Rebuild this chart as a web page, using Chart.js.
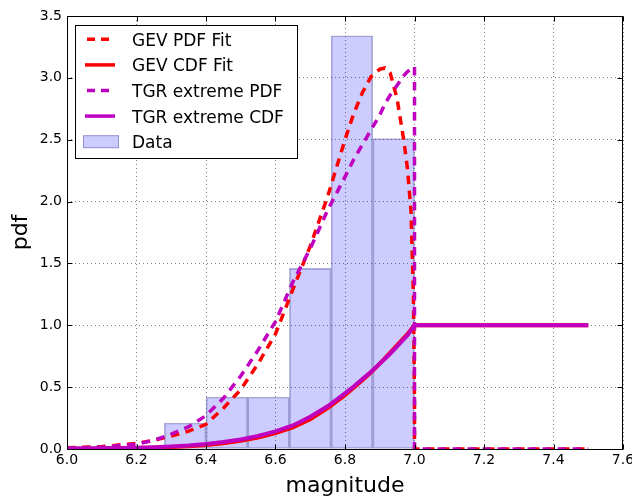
<!DOCTYPE html>
<html>
<head>
<meta charset="utf-8">
<script src="https://cdn.jsdelivr.net/npm/chart.js@4/dist/chart.umd.min.js"></script>
<style>
  html, body { margin: 0; padding: 0; background: #fff; }
  canvas { display: block; }
</style>
</head>
<body>
<canvas id="chart" width="632" height="497"></canvas>
<script>
// Histogram of magnitudes with GEV and TGR extreme-value fits (pdf + cdf).

const X_TICKS = [6.0, 6.2, 6.4, 6.6, 6.8, 7.0, 7.2, 7.4, 7.6];
const Y_TICKS = [0.0, 0.5, 1.0, 1.5, 2.0, 2.5, 3.0, 3.5];

// histogram bins (edges) and density per bin
const BIN_EDGES = [6.28, 6.40, 6.52, 6.64, 6.76, 6.88, 7.00];
const BIN_DENSITY = [0.21, 0.42, 0.42, 1.46, 3.34, 2.51];

// magnitude grid shared by the fitted curves (7.0 twice for the cut-off step)
const MAG = [6.0, 6.1, 6.2, 6.25, 6.3, 6.35, 6.4, 6.45, 6.5, 6.55, 6.6, 6.65, 6.7, 6.75,
  6.8, 6.825, 6.85, 6.875, 6.9, 6.915, 6.93, 6.95, 6.97, 6.98, 6.99, 6.997, 7.0, 7.0, 7.5];
const GEV_PDF = [0.01, 0.02, 0.045, 0.07, 0.105, 0.145, 0.20, 0.33, 0.48, 0.69, 0.93, 1.29, 1.64, 2.04,
  2.50, 2.71, 2.88, 3.01, 3.07, 3.08, 3.04, 2.83, 2.48, 2.26, 1.92, 1.23, 0.4, 0, 0];
const GEV_CDF = [0.003, 0.005, 0.008, 0.011, 0.016, 0.022, 0.032, 0.046, 0.066, 0.092, 0.128, 0.175, 0.24, 0.33,
  0.435, 0.495, 0.555, 0.62, 0.69, 0.735, 0.78, 0.84, 0.90, 0.93, 0.965, 0.99, 1.0, 1.0, 1.0];
const TGR_PDF = [0.005, 0.015, 0.04, 0.07, 0.12, 0.18, 0.27, 0.41, 0.59, 0.80, 1.03, 1.35, 1.62, 1.93,
  2.20, 2.34, 2.46, 2.58, 2.70, 2.79, 2.86, 2.94, 3.02, 3.05, 3.07, 3.08, 3.09, 0, 0];
const TGR_CDF = [0.004, 0.006, 0.010, 0.014, 0.02, 0.028, 0.04, 0.056, 0.077, 0.105, 0.143, 0.19, 0.26, 0.345,
  0.45, 0.505, 0.565, 0.625, 0.69, 0.73, 0.77, 0.83, 0.89, 0.92, 0.96, 0.99, 1.0, 1.0, 1.0];

const RED = "#ff0000";
const MAGENTA = "#bf00bf";
const FONT = "DejaVu Sans";
const DASH = [8.5, 6.5];

const pts = (ys) => MAG.map((x, i) => ({ x, y: ys[i] }));
const bins = BIN_DENSITY.map((y, i) => ({ x: (BIN_EDGES[i] + BIN_EDGES[i + 1]) / 2, y }));

const curve = (label, ys, color, dashed, order) => ({
  type: "line", label, data: pts(ys), order, dashed,
  borderColor: color, backgroundColor: color,
  borderWidth: dashed ? 3.5 : 4, borderDash: dashed ? DASH : [],
  borderCapStyle: "butt",
  pointRadius: 0, tension: 0, fill: false,
});

// matplotlib-like box: full frame with inward ticks on all four sides
const framePlugin = {
  id: "frame",
  afterDraw(chart) {
    const { ctx, chartArea: a, scales: { x, y } } = chart;
    const L = Math.round(a.left) + 0.5, R = Math.round(a.right) - 0.5;
    const T = Math.round(a.top) + 0.5, B = Math.round(a.bottom) + 0.5;
    const len = 5;
    ctx.save();
    ctx.setLineDash([]);
    ctx.strokeStyle = "#000";
    ctx.lineWidth = 1;
    ctx.beginPath();
    X_TICKS.forEach((v) => {
      const p = Math.round(x.getPixelForValue(v)) + 0.5;
      ctx.moveTo(p, B); ctx.lineTo(p, B - len);
      ctx.moveTo(p, T); ctx.lineTo(p, T + len);
    });
    Y_TICKS.forEach((v) => {
      const p = Math.round(y.getPixelForValue(v)) + 0.5;
      ctx.moveTo(L, p); ctx.lineTo(L + len, p);
      ctx.moveTo(R, p); ctx.lineTo(R - len, p);
    });
    ctx.stroke();
    ctx.strokeRect(L, T, R - L, B - T);
    ctx.restore();
  },
};

// legend box in the upper left corner of the plot
const legendPlugin = {
  id: "boxLegend",
  afterDraw(chart) {
    const { ctx } = chart;
    const box = { x: 75.5, y: 25.5, w: 222, h: 133 };
    ctx.save();
    ctx.setLineDash([]);
    ctx.fillStyle = "#fff";
    ctx.fillRect(box.x, box.y, box.w, box.h);
    ctx.strokeStyle = "#000";
    ctx.lineWidth = 1;
    ctx.strokeRect(box.x, box.y, box.w, box.h);
    ctx.font = `17px "${FONT}"`;
    ctx.textBaseline = "middle";
    chart.data.datasets.forEach((ds, i) => {
      const cy = 39.3 + i * 25.6;
      if (ds.type === "bar") {
        ctx.fillStyle = ds.backgroundColor;
        ctx.fillRect(83, cy - 6.5, 36, 13);
        ctx.lineWidth = 1;
        ctx.strokeStyle = ds.borderColor;
        ctx.strokeRect(83.5, cy - 6, 35, 12);
      } else {
        ctx.strokeStyle = ds.borderColor;
        ctx.lineWidth = 3.5;
        ctx.setLineDash(ds.dashed ? [8, 6] : []);
        ctx.beginPath();
        if (ds.dashed) { ctx.moveTo(87, cy); ctx.lineTo(110, cy); }
        else { ctx.moveTo(85, cy); ctx.lineTo(115, cy); }
        ctx.stroke();
        ctx.setLineDash([]);
      }
      ctx.fillStyle = "#000";
      ctx.fillText(ds.label, 132, cy + 2);
    });
    ctx.restore();
  },
};

new Chart(document.getElementById("chart"), {
  type: "line",
  data: {
    datasets: [
      curve("GEV PDF Fit", GEV_PDF, RED, true, 4),
      curve("GEV CDF Fit", GEV_CDF, RED, false, 3),
      curve("TGR extreme PDF", TGR_PDF, MAGENTA, true, 2),
      curve("TGR extreme CDF", TGR_CDF, MAGENTA, false, 1),
      {
        type: "bar", label: "Data", data: bins, order: 10,
        backgroundColor: "rgba(0,0,255,0.2)", borderColor: "rgba(60,60,140,0.4)",
        borderWidth: 1, borderSkipped: false, barPercentage: 1, categoryPercentage: 1,
      },
    ],
  },
  options: {
    responsive: false,
    animation: false,
    events: [],
    devicePixelRatio: 1,
    layout: { padding: { top: 16, right: 9, left: 0, bottom: 0 } },
    plugins: { legend: { display: false }, tooltip: { enabled: false } },
    scales: {
      x: {
        type: "linear", min: 6.0, max: 7.6, offset: false,
        afterBuildTicks: (s) => { s.ticks = X_TICKS.map((value) => ({ value })); },
        afterFit: (s) => { s.height = 48; s.paddingLeft = 0; s.paddingRight = 0; },
        ticks: { color: "#000", padding: 3, maxRotation: 0, autoSkip: false,
          font: { family: FONT, size: 14 }, callback: (v) => Number(v).toFixed(1) },
        grid: { color: "rgba(0,0,0,0.5)", lineWidth: 1, drawTicks: false, offset: false },
        border: { display: false, dash: [1, 3] },
        title: { display: true, text: "magnitude", color: "#000",
          font: { family: FONT, size: 22, lineHeight: 1 }, padding: { top: 0, bottom: 0 } },
      },
      y: {
        min: 0, max: 3.5,
        afterBuildTicks: (s) => { s.ticks = Y_TICKS.map((value) => ({ value })); },
        afterFit: (s) => { s.width = 67; s.paddingTop = 0; s.paddingBottom = 0; },
        ticks: { color: "#000", padding: 5, font: { family: FONT, size: 14 },
          callback: (v) => Number(v).toFixed(1) },
        grid: { color: "rgba(0,0,0,0.5)", lineWidth: 1, drawTicks: false },
        border: { display: false, dash: [1, 3] },
        title: { display: true, text: "pdf", color: "#000",
          font: { family: FONT, size: 22, lineHeight: 1 }, padding: { top: 10, bottom: 0 } },
      },
    },
  },
  plugins: [framePlugin, legendPlugin],
});
</script>
</body>
</html>
